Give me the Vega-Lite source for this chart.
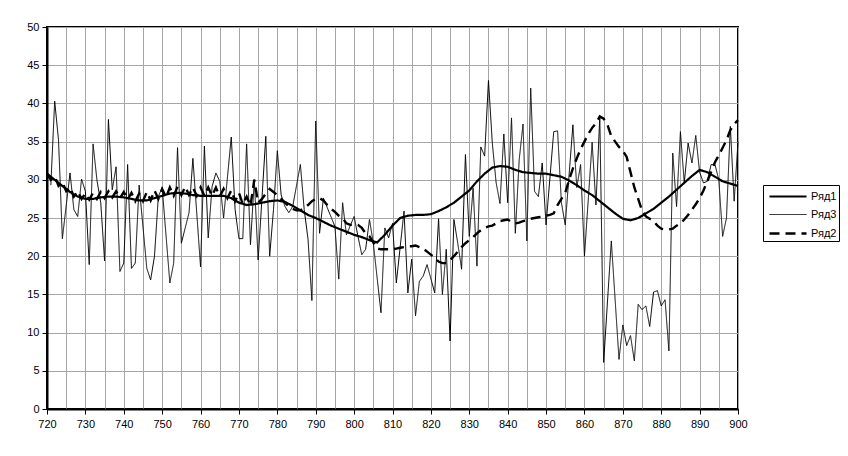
{
  "$schema": "https://vega.github.io/schema/vega-lite/v6.json",
  "width": 691,
  "height": 382,
  "autosize": {"type": "none"},
  "padding": {"left": 47, "top": 27, "right": 110, "bottom": 47},
  "background": "white",
  "config": {
    "view": {"stroke": "black", "strokeWidth": 2},
    "font": "Liberation Sans",
    "axis": {"labelFont": "Liberation Sans", "labelFontSize": 11, "labelColor": "black", "gridColor": "#a6a6a6", "gridWidth": 1, "gridOpacity": 1, "domainColor": "black", "tickColor": "black", "title": null}
  },
  "data": {"values": [
    {"s":"Ряд1","x":720,"y":30.8},{"s":"Ряд1","x":722,"y":30.0},{"s":"Ряд1","x":724,"y":29.2},{"s":"Ряд1","x":726,"y":28.4},{"s":"Ряд1","x":728,"y":27.8},{"s":"Ряд1","x":730,"y":27.5},{"s":"Ряд1","x":732,"y":27.5},{"s":"Ряд1","x":734,"y":27.7},{"s":"Ряд1","x":736,"y":27.8},{"s":"Ряд1","x":738,"y":27.8},{"s":"Ряд1","x":740,"y":27.7},{"s":"Ряд1","x":742,"y":27.5},{"s":"Ряд1","x":744,"y":27.3},{"s":"Ряд1","x":746,"y":27.3},{"s":"Ряд1","x":748,"y":27.6},{"s":"Ряд1","x":750,"y":27.9},{"s":"Ряд1","x":752,"y":28.2},{"s":"Ряд1","x":754,"y":28.3},{"s":"Ряд1","x":756,"y":28.2},{"s":"Ряд1","x":758,"y":28.0},{"s":"Ряд1","x":760,"y":27.9},{"s":"Ряд1","x":764,"y":27.9},{"s":"Ряд1","x":766,"y":27.9},{"s":"Ряд1","x":768,"y":27.6},{"s":"Ряд1","x":770,"y":27.0},{"s":"Ряд1","x":772,"y":26.7},{"s":"Ряд1","x":774,"y":26.8},{"s":"Ряд1","x":776,"y":27.0},{"s":"Ряд1","x":778,"y":27.2},{"s":"Ряд1","x":780,"y":27.3},{"s":"Ряд1","x":782,"y":27.1},{"s":"Ряд1","x":784,"y":26.6},{"s":"Ряд1","x":786,"y":26.0},{"s":"Ряд1","x":788,"y":25.4},{"s":"Ряд1","x":790,"y":25.0},{"s":"Ряд1","x":792,"y":24.5},{"s":"Ряд1","x":794,"y":24.0},{"s":"Ряд1","x":796,"y":23.6},{"s":"Ряд1","x":798,"y":23.2},{"s":"Ряд1","x":800,"y":22.8},{"s":"Ряд1","x":802,"y":22.5},{"s":"Ряд1","x":804,"y":22.1},{"s":"Ряд1","x":806,"y":21.8},{"s":"Ряд1","x":808,"y":22.8},{"s":"Ряд1","x":810,"y":24.0},{"s":"Ряд1","x":812,"y":25.0},{"s":"Ряд1","x":814,"y":25.3},{"s":"Ряд1","x":816,"y":25.4},{"s":"Ряд1","x":818,"y":25.4},{"s":"Ряд1","x":820,"y":25.5},{"s":"Ряд1","x":822,"y":25.9},{"s":"Ряд1","x":824,"y":26.4},{"s":"Ряд1","x":826,"y":27.0},{"s":"Ряд1","x":828,"y":27.8},{"s":"Ряд1","x":830,"y":28.6},{"s":"Ряд1","x":832,"y":29.8},{"s":"Ряд1","x":834,"y":30.8},{"s":"Ряд1","x":836,"y":31.6},{"s":"Ряд1","x":838,"y":31.8},{"s":"Ряд1","x":840,"y":31.7},{"s":"Ряд1","x":842,"y":31.3},{"s":"Ряд1","x":844,"y":31.0},{"s":"Ряд1","x":846,"y":30.9},{"s":"Ряд1","x":848,"y":30.8},{"s":"Ряд1","x":850,"y":30.8},{"s":"Ряд1","x":852,"y":30.6},{"s":"Ряд1","x":854,"y":30.4},{"s":"Ряд1","x":856,"y":29.9},{"s":"Ряд1","x":858,"y":29.3},{"s":"Ряд1","x":860,"y":28.6},{"s":"Ряд1","x":862,"y":28.0},{"s":"Ряд1","x":864,"y":27.2},{"s":"Ряд1","x":866,"y":26.4},{"s":"Ряд1","x":868,"y":25.6},{"s":"Ряд1","x":870,"y":24.9},{"s":"Ряд1","x":872,"y":24.7},{"s":"Ряд1","x":874,"y":25.0},{"s":"Ряд1","x":876,"y":25.6},{"s":"Ряд1","x":878,"y":26.2},{"s":"Ряд1","x":880,"y":27.0},{"s":"Ряд1","x":882,"y":27.8},{"s":"Ряд1","x":884,"y":28.7},{"s":"Ряд1","x":886,"y":29.6},{"s":"Ряд1","x":888,"y":30.5},{"s":"Ряд1","x":890,"y":31.3},{"s":"Ряд1","x":892,"y":31.0},{"s":"Ряд1","x":894,"y":30.4},{"s":"Ряд1","x":896,"y":29.8},{"s":"Ряд1","x":898,"y":29.5},{"s":"Ряд1","x":900,"y":29.2},

    {"s":"Ряд3","x":721,"y":29.3},{"s":"Ряд3","x":722,"y":40.3},{"s":"Ряд3","x":723,"y":35.2},{"s":"Ряд3","x":724,"y":22.3},{"s":"Ряд3","x":726,"y":30.9},{"s":"Ряд3","x":727,"y":26.1},{"s":"Ряд3","x":728,"y":25.2},{"s":"Ряд3","x":729,"y":30.1},{"s":"Ряд3","x":730,"y":28.5},{"s":"Ряд3","x":731,"y":18.9},{"s":"Ряд3","x":732,"y":34.7},{"s":"Ряд3","x":733,"y":30},{"s":"Ряд3","x":734,"y":27},{"s":"Ряд3","x":735,"y":19.4},{"s":"Ряд3","x":736,"y":37.9},{"s":"Ряд3","x":737,"y":28.7},{"s":"Ряд3","x":738,"y":31.7},{"s":"Ряд3","x":739,"y":18},{"s":"Ряд3","x":740,"y":19.1},{"s":"Ряд3","x":741,"y":32},{"s":"Ряд3","x":742,"y":18.4},{"s":"Ряд3","x":743,"y":19.1},{"s":"Ряд3","x":744,"y":29.3},{"s":"Ряд3","x":746,"y":18.4},{"s":"Ряд3","x":747,"y":16.9},{"s":"Ряд3","x":748,"y":20},{"s":"Ряд3","x":749,"y":27.8},{"s":"Ряд3","x":750,"y":29},{"s":"Ряд3","x":752,"y":16.5},{"s":"Ряд3","x":753,"y":19.1},{"s":"Ряд3","x":754,"y":34.2},{"s":"Ряд3","x":755,"y":21.7},{"s":"Ряд3","x":757,"y":25.7},{"s":"Ряд3","x":758,"y":32.8},{"s":"Ряд3","x":760,"y":18.6},{"s":"Ряд3","x":761,"y":34.4},{"s":"Ряд3","x":762,"y":22.4},{"s":"Ряд3","x":763,"y":29.1},{"s":"Ряд3","x":764,"y":30.9},{"s":"Ряд3","x":765,"y":29.8},{"s":"Ряд3","x":766,"y":25},{"s":"Ряд3","x":768,"y":35.6},{"s":"Ряд3","x":769,"y":26.1},{"s":"Ряд3","x":770,"y":22.3},{"s":"Ряд3","x":771,"y":22.3},{"s":"Ряд3","x":772,"y":34.7},{"s":"Ряд3","x":773,"y":21.5},{"s":"Ряд3","x":774,"y":30},{"s":"Ряд3","x":775,"y":19.5},{"s":"Ряд3","x":777,"y":35.7},{"s":"Ряд3","x":778,"y":20},{"s":"Ряд3","x":779,"y":26.1},{"s":"Ряд3","x":780,"y":33.8},{"s":"Ряд3","x":781,"y":28},{"s":"Ряд3","x":782,"y":26.5},{"s":"Ряд3","x":783,"y":25.7},{"s":"Ряд3","x":784,"y":26.5},{"s":"Ряд3","x":786,"y":32},{"s":"Ряд3","x":787,"y":26.1},{"s":"Ряд3","x":788,"y":22.2},{"s":"Ряд3","x":789,"y":14.2},{"s":"Ряд3","x":790,"y":37.7},{"s":"Ряд3","x":791,"y":23},{"s":"Ряд3","x":792,"y":27.6},{"s":"Ряд3","x":795,"y":23.9},{"s":"Ряд3","x":796,"y":17},{"s":"Ряд3","x":797,"y":27},{"s":"Ряд3","x":798,"y":22.8},{"s":"Ряд3","x":800,"y":25.2},{"s":"Ряд3","x":801,"y":22.6},{"s":"Ряд3","x":802,"y":20.2},{"s":"Ряд3","x":803,"y":20.9},{"s":"Ряд3","x":804,"y":24.8},{"s":"Ряд3","x":805,"y":21.7},{"s":"Ряд3","x":807,"y":12.6},{"s":"Ряд3","x":808,"y":23.7},{"s":"Ряд3","x":809,"y":22.4},{"s":"Ряд3","x":810,"y":24.3},{"s":"Ряд3","x":811,"y":16.5},{"s":"Ряд3","x":813,"y":25.9},{"s":"Ряд3","x":814,"y":15.2},{"s":"Ряд3","x":815,"y":19.6},{"s":"Ряд3","x":816,"y":12.2},{"s":"Ряд3","x":817,"y":16.7},{"s":"Ряд3","x":818,"y":17.4},{"s":"Ряд3","x":819,"y":18.9},{"s":"Ряд3","x":821,"y":15.2},{"s":"Ряд3","x":822,"y":24.9},{"s":"Ряд3","x":823,"y":15},{"s":"Ряд3","x":824,"y":20.9},{"s":"Ряд3","x":825,"y":8.9},{"s":"Ряд3","x":826,"y":24.8},{"s":"Ряд3","x":827,"y":21.7},{"s":"Ряд3","x":828,"y":18.3},{"s":"Ряд3","x":829,"y":33.3},{"s":"Ряд3","x":830,"y":22.6},{"s":"Ряд3","x":831,"y":28.9},{"s":"Ряд3","x":832,"y":18.7},{"s":"Ряд3","x":833,"y":34.3},{"s":"Ряд3","x":834,"y":33.1},{"s":"Ряд3","x":835,"y":43},{"s":"Ряд3","x":836,"y":34.8},{"s":"Ряд3","x":837,"y":29.6},{"s":"Ряд3","x":838,"y":26.9},{"s":"Ряд3","x":839,"y":36},{"s":"Ряд3","x":840,"y":27},{"s":"Ряд3","x":841,"y":38.1},{"s":"Ряд3","x":842,"y":23},{"s":"Ряд3","x":843,"y":32.6},{"s":"Ряд3","x":844,"y":37.3},{"s":"Ряд3","x":845,"y":22},{"s":"Ряд3","x":846,"y":42},{"s":"Ряд3","x":847,"y":28.5},{"s":"Ряд3","x":848,"y":27.8},{"s":"Ряд3","x":849,"y":32.2},{"s":"Ряд3","x":850,"y":24.1},{"s":"Ряд3","x":852,"y":36.3},{"s":"Ряд3","x":853,"y":36.4},{"s":"Ряд3","x":854,"y":27},{"s":"Ряд3","x":855,"y":24.1},{"s":"Ряд3","x":857,"y":37.2},{"s":"Ряд3","x":858,"y":29},{"s":"Ряд3","x":859,"y":32},{"s":"Ряд3","x":860,"y":20},{"s":"Ряд3","x":862,"y":34.9},{"s":"Ряд3","x":863,"y":26.7},{"s":"Ряд3","x":864,"y":38.3},{"s":"Ряд3","x":865,"y":6.1},{"s":"Ряд3","x":867,"y":22},{"s":"Ряд3","x":869,"y":6.5},{"s":"Ряд3","x":870,"y":11},{"s":"Ряд3","x":871,"y":8.3},{"s":"Ряд3","x":872,"y":9.6},{"s":"Ряд3","x":873,"y":6.3},{"s":"Ряд3","x":874,"y":13.7},{"s":"Ряд3","x":875,"y":13},{"s":"Ряд3","x":876,"y":13.5},{"s":"Ряд3","x":877,"y":10.8},{"s":"Ряд3","x":878,"y":15.3},{"s":"Ряд3","x":879,"y":15.5},{"s":"Ряд3","x":880,"y":13.5},{"s":"Ряд3","x":881,"y":14.3},{"s":"Ряд3","x":882,"y":7.6},{"s":"Ряд3","x":883,"y":33.5},{"s":"Ряд3","x":884,"y":26.5},{"s":"Ряд3","x":885,"y":36.3},{"s":"Ряд3","x":886,"y":29.6},{"s":"Ряд3","x":887,"y":34.8},{"s":"Ряд3","x":888,"y":32.2},{"s":"Ряд3","x":889,"y":35.8},{"s":"Ряд3","x":890,"y":31},{"s":"Ряд3","x":891,"y":29.6},{"s":"Ряд3","x":892,"y":29.8},{"s":"Ряд3","x":893,"y":32},{"s":"Ряд3","x":894,"y":32},{"s":"Ряд3","x":895,"y":30},{"s":"Ряд3","x":896,"y":22.6},{"s":"Ряд3","x":897,"y":25},{"s":"Ряд3","x":898,"y":37},{"s":"Ряд3","x":899,"y":27.2},{"s":"Ряд3","x":900,"y":35},

    {"s":"Ряд2","x":720,"y":30.8},{"s":"Ряд2","x":721,"y":30.0},{"s":"Ряд2","x":722,"y":30.5},{"s":"Ряд2","x":723,"y":29.2},{"s":"Ряд2","x":724,"y":29.7},{"s":"Ряд2","x":725,"y":28.5},{"s":"Ряд2","x":726,"y":29.0},{"s":"Ряд2","x":727,"y":27.8},{"s":"Ряд2","x":728,"y":28.5},{"s":"Ряд2","x":729,"y":27.5},{"s":"Ряд2","x":730,"y":28.2},{"s":"Ряд2","x":731,"y":27.4},{"s":"Ряд2","x":732,"y":28.3},{"s":"Ряд2","x":733,"y":27.5},{"s":"Ряд2","x":734,"y":28.4},{"s":"Ряд2","x":735,"y":27.6},{"s":"Ряд2","x":736,"y":28.5},{"s":"Ряд2","x":737,"y":27.7},{"s":"Ряд2","x":738,"y":28.5},{"s":"Ряд2","x":739,"y":27.6},{"s":"Ряд2","x":740,"y":28.4},{"s":"Ряд2","x":741,"y":27.4},{"s":"Ряд2","x":742,"y":28.3},{"s":"Ряд2","x":743,"y":27.2},{"s":"Ряд2","x":744,"y":28.2},{"s":"Ряд2","x":745,"y":27.2},{"s":"Ряд2","x":746,"y":28.4},{"s":"Ряд2","x":747,"y":27.3},{"s":"Ряд2","x":748,"y":28.6},{"s":"Ряд2","x":749,"y":27.5},{"s":"Ряд2","x":750,"y":28.8},{"s":"Ряд2","x":751,"y":27.7},{"s":"Ряд2","x":752,"y":29.0},{"s":"Ряд2","x":753,"y":27.9},{"s":"Ряд2","x":754,"y":29.1},{"s":"Ряд2","x":755,"y":28.0},{"s":"Ряд2","x":756,"y":29.1},{"s":"Ряд2","x":757,"y":28.0},{"s":"Ряд2","x":758,"y":29.0},{"s":"Ряд2","x":759,"y":27.9},{"s":"Ряд2","x":760,"y":29.0},{"s":"Ряд2","x":761,"y":27.9},{"s":"Ряд2","x":762,"y":29.0},{"s":"Ряд2","x":763,"y":27.9},{"s":"Ряд2","x":764,"y":29.0},{"s":"Ряд2","x":765,"y":27.8},{"s":"Ряд2","x":766,"y":28.8},{"s":"Ряд2","x":767,"y":27.6},{"s":"Ряд2","x":768,"y":28.6},{"s":"Ряд2","x":769,"y":27.2},{"s":"Ряд2","x":770,"y":28.3},{"s":"Ряд2","x":771,"y":26.8},{"s":"Ряд2","x":772,"y":27.8},{"s":"Ряд2","x":773,"y":26.6},{"s":"Ряд2","x":774,"y":30.0},{"s":"Ряд2","x":775,"y":27.0},{"s":"Ряд2","x":776,"y":27.5},{"s":"Ряд2","x":777,"y":28.2},{"s":"Ряд2","x":778,"y":28.8},{"s":"Ряд2","x":779,"y":28.4},{"s":"Ряд2","x":780,"y":28.0},{"s":"Ряд2","x":781,"y":27.5},{"s":"Ряд2","x":782,"y":27.0},{"s":"Ряд2","x":783,"y":26.5},{"s":"Ряд2","x":784,"y":26.2},{"s":"Ряд2","x":785,"y":26.0},{"s":"Ряд2","x":786,"y":26.0},{"s":"Ряд2","x":787,"y":26.3},{"s":"Ряд2","x":788,"y":26.7},{"s":"Ряд2","x":789,"y":27.2},{"s":"Ряд2","x":790,"y":27.5},{"s":"Ряд2","x":791,"y":27.6},{"s":"Ряд2","x":792,"y":27.3},{"s":"Ряд2","x":793,"y":26.7},{"s":"Ряд2","x":794,"y":26.2},{"s":"Ряд2","x":795,"y":25.8},{"s":"Ряд2","x":796,"y":25.3},{"s":"Ряд2","x":797,"y":25.0},{"s":"Ряд2","x":798,"y":24.3},{"s":"Ряд2","x":799,"y":24.1},{"s":"Ряд2","x":800,"y":24.1},{"s":"Ряд2","x":801,"y":24.1},{"s":"Ряд2","x":802,"y":23.7},{"s":"Ряд2","x":803,"y":23.0},{"s":"Ряд2","x":804,"y":22.6},{"s":"Ряд2","x":805,"y":21.8},{"s":"Ряд2","x":806,"y":21.0},{"s":"Ряд2","x":807,"y":20.9},{"s":"Ряд2","x":808,"y":20.9},{"s":"Ряд2","x":809,"y":20.9},{"s":"Ряд2","x":810,"y":20.9},{"s":"Ряд2","x":811,"y":21.0},{"s":"Ряд2","x":812,"y":21.1},{"s":"Ряд2","x":813,"y":21.2},{"s":"Ряд2","x":814,"y":21.3},{"s":"Ряд2","x":815,"y":21.3},{"s":"Ряд2","x":816,"y":21.4},{"s":"Ряд2","x":817,"y":21.2},{"s":"Ряд2","x":818,"y":21.0},{"s":"Ряд2","x":819,"y":20.6},{"s":"Ряд2","x":820,"y":20.2},{"s":"Ряд2","x":821,"y":19.8},{"s":"Ряд2","x":822,"y":19.3},{"s":"Ряд2","x":823,"y":19.1},{"s":"Ряд2","x":824,"y":19.1},{"s":"Ряд2","x":825,"y":19.5},{"s":"Ряд2","x":826,"y":20.0},{"s":"Ряд2","x":827,"y":20.6},{"s":"Ряд2","x":828,"y":21.2},{"s":"Ряд2","x":829,"y":21.7},{"s":"Ряд2","x":830,"y":22.1},{"s":"Ряд2","x":831,"y":22.5},{"s":"Ряд2","x":832,"y":23.0},{"s":"Ряд2","x":833,"y":23.4},{"s":"Ряд2","x":834,"y":23.7},{"s":"Ряд2","x":835,"y":23.9},{"s":"Ряд2","x":836,"y":24.0},{"s":"Ряд2","x":837,"y":24.3},{"s":"Ряд2","x":838,"y":24.6},{"s":"Ряд2","x":839,"y":24.7},{"s":"Ряд2","x":840,"y":24.8},{"s":"Ряд2","x":841,"y":24.5},{"s":"Ряд2","x":842,"y":24.3},{"s":"Ряд2","x":843,"y":24.4},{"s":"Ряд2","x":844,"y":24.6},{"s":"Ряд2","x":845,"y":24.7},{"s":"Ряд2","x":846,"y":24.9},{"s":"Ряд2","x":847,"y":25.0},{"s":"Ряд2","x":848,"y":25.1},{"s":"Ряд2","x":849,"y":25.2},{"s":"Ряд2","x":850,"y":25.3},{"s":"Ряд2","x":851,"y":25.4},{"s":"Ряд2","x":852,"y":25.6},{"s":"Ряд2","x":853,"y":26.7},{"s":"Ряд2","x":854,"y":27.5},{"s":"Ряд2","x":855,"y":28.3},{"s":"Ряд2","x":856,"y":30.0},{"s":"Ряд2","x":857,"y":31.5},{"s":"Ряд2","x":858,"y":32.8},{"s":"Ряд2","x":859,"y":34.0},{"s":"Ряд2","x":860,"y":35.0},{"s":"Ряд2","x":861,"y":36.0},{"s":"Ряд2","x":862,"y":36.8},{"s":"Ряд2","x":863,"y":37.4},{"s":"Ряд2","x":864,"y":38.3},{"s":"Ряд2","x":865,"y":38.0},{"s":"Ряд2","x":866,"y":37.2},{"s":"Ряд2","x":867,"y":35.7},{"s":"Ряд2","x":868,"y":35.0},{"s":"Ряд2","x":869,"y":34.3},{"s":"Ряд2","x":870,"y":33.8},{"s":"Ряд2","x":871,"y":33.0},{"s":"Ряд2","x":872,"y":31.0},{"s":"Ряд2","x":873,"y":29.0},{"s":"Ряд2","x":874,"y":27.5},{"s":"Ряд2","x":875,"y":26.0},{"s":"Ряд2","x":876,"y":25.2},{"s":"Ряд2","x":877,"y":24.9},{"s":"Ряд2","x":878,"y":24.6},{"s":"Ряд2","x":879,"y":24.0},{"s":"Ряд2","x":880,"y":23.6},{"s":"Ряд2","x":881,"y":23.5},{"s":"Ряд2","x":882,"y":23.5},{"s":"Ряд2","x":883,"y":23.6},{"s":"Ряд2","x":884,"y":24.0},{"s":"Ряд2","x":885,"y":24.3},{"s":"Ряд2","x":886,"y":24.8},{"s":"Ряд2","x":887,"y":25.4},{"s":"Ряд2","x":888,"y":26.1},{"s":"Ряд2","x":889,"y":26.8},{"s":"Ряд2","x":890,"y":27.6},{"s":"Ряд2","x":891,"y":28.6},{"s":"Ряд2","x":892,"y":29.8},{"s":"Ряд2","x":893,"y":31.0},{"s":"Ряд2","x":894,"y":32.3},{"s":"Ряд2","x":895,"y":33.2},{"s":"Ряд2","x":896,"y":34.2},{"s":"Ряд2","x":897,"y":35.2},{"s":"Ряд2","x":898,"y":36.5},{"s":"Ряд2","x":899,"y":37.3},{"s":"Ряд2","x":900,"y":37.8}
  ]},
  "layer": [
    {
      "mark": {"type": "line", "strokeOpacity": 0},
      "encoding": {
        "x": {"field": "x", "type": "quantitative", "scale": {"domain": [720, 900], "nice": false, "zero": false},
              "axis": {"orient": "bottom", "values": [720,725,730,735,740,745,750,755,760,765,770,775,780,785,790,795,800,805,810,815,820,825,830,835,840,845,850,855,860,865,870,875,880,885,890,895,900], "labels": false, "ticks": false, "domain": false, "grid": true}},
        "y": {"field": "y", "type": "quantitative", "scale": {"domain": [0, 50], "nice": false},
              "axis": {"values": [0,5,10,15,20,25,30,35,40,45,50], "labelOverlap": false, "grid": true, "tickSize": 5, "labelPadding": 3, "domainWidth": 2}},
        "detail": {"field": "s"}
      }
    },
    {
      "mark": {"type": "line"},
      "encoding": {
        "x": {"field": "x", "type": "quantitative", "scale": {"domain": [720, 900], "nice": false, "zero": false},
              "axis": {"orient": "bottom", "values": [720,730,740,750,760,770,780,790,800,810,820,830,840,850,860,870,880,890,900], "labelOverlap": false, "grid": false, "tickSize": 5, "labelPadding": 4, "domainWidth": 2, "labelFlush": false}},
        "y": {"field": "y", "type": "quantitative", "scale": {"domain": [0, 50], "nice": false},
              "axis": {"values": [0,5,10,15,20,25,30,35,40,45,50], "labelOverlap": false, "grid": true, "tickSize": 5, "labelPadding": 3, "domainWidth": 2}},
        "color": {"field": "s", "type": "nominal", "scale": {"domain": ["Ряд1","Ряд3","Ряд2"], "range": ["black","black","black"]},
                  "legend": {"orient": "none", "legendX": 716, "legendY": 158, "title": null, "strokeColor": "black", "padding": 2, "symbolType": "M-0.625,0H4", "symbolSize": 256, "labelFontSize": 11, "labelFont": "Liberation Sans", "labelColor": "black", "rowPadding": 4, "labelOffset": 27}},
        "strokeDash": {"field": "s", "type": "nominal", "scale": {"domain": ["Ряд1","Ряд3","Ряд2"], "range": [[1,0],[1,0],[10,6]]}},
        "strokeWidth": {"field": "s", "type": "nominal", "scale": {"type": "ordinal", "domain": ["Ряд1","Ряд3","Ряд2"], "range": [2.2,1,2.4]}}
      }
    }
  ],
  "resolve": {"axis": {"x": "independent"}}
}
